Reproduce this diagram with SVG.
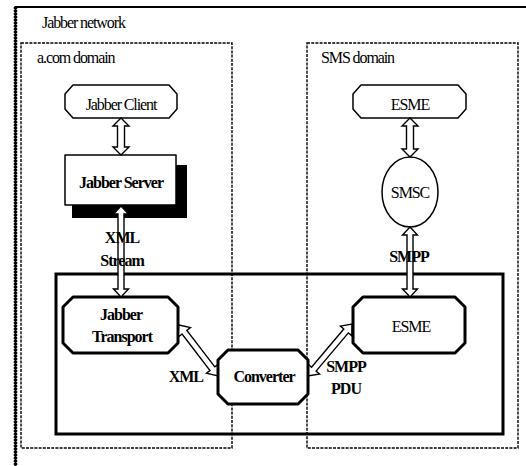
<svg xmlns="http://www.w3.org/2000/svg" width="526" height="466" viewBox="0 0 526 466" font-family="'Liberation Serif', 'Times New Roman', serif">
<style>
text{font-family:'Liberation Serif','Times New Roman',serif;font-size:16px;fill:#000;letter-spacing:-1.1px}
.b{font-weight:bold;letter-spacing:-1px}
.m{text-anchor:middle}
.dash{fill:none;stroke:#000;stroke-width:1.4;stroke-dasharray:3 1.2}
.thin{fill:#fff;stroke:#000;stroke-width:1.5;stroke-linejoin:round}
.thick{fill:#fff;stroke:#000;stroke-width:3;stroke-linejoin:round}
.arr{fill:#fff;stroke:#000;stroke-width:1.4;stroke-linejoin:miter}
</style>
<rect width="526" height="466" fill="#fff"/>
<g id="jabber-network">
<path d="M15.5,466 V7 H526" fill="none" stroke="#000" stroke-width="2"/>
<line x1="15.5" y1="7" x2="15.5" y2="466" stroke="#000" stroke-width="3.5" stroke-dasharray="2 1"/>
<text x="42" y="28">Jabber network</text>
</g>
<g id="acom-domain">
<rect class="dash" x="21" y="43" width="211" height="405"/>
<text x="37" y="63">a.com domain</text>
</g>
<g id="sms-domain">
<rect class="dash" x="307" y="43" width="211" height="405"/>
<text x="321" y="63">SMS domain</text>
</g>
<g id="gateway">
<rect x="56" y="274" width="447" height="160" fill="none" stroke="#000" stroke-width="3"/>
</g>
<g id="jabber-client">
<path class="thin" d="M73,85 H169 L177,94 V109 L169,118 H73 L65,109 V94 Z"/>
<text class="m" x="121" y="110">Jabber Client</text>
</g>
<g id="jabber-server">
<rect x="72" y="165" width="115" height="53" fill="#000"/>
<rect class="thin" x="65" y="155" width="111" height="50"/>
<text class="m b" x="121" y="188">Jabber Server</text>
</g>
<g id="esme-top">
<path class="thin" d="M361,85 H458 L466,94 V109 L458,118 H361 L353,109 V94 Z"/>
<text class="m" x="410" y="110">ESME</text>
</g>
<g id="smsc">
<ellipse class="thin" cx="410" cy="192" rx="28" ry="35"/>
<text class="m" x="410" y="198">SMSC</text>
</g>
<g id="jabber-transport">
<path class="thick" d="M73,297 H168 L178,307 V343 L168,353 H73 L63,343 V307 Z"/>
<text class="m b" x="121" y="320">Jabber</text>
<text class="m b" x="122" y="342">Transport</text>
</g>
<g id="esme-bottom">
<path class="thick" d="M363,297 H455 L465,307 V343 L455,353 H363 L353,343 V307 Z"/>
<text class="m" x="411" y="332">ESME</text>
</g>
<g id="connectors">
<path class="arr" transform="translate(121,118) rotate(90)" d="M0,0 L8,-8 L8,-3.5 L29,-3.5 L29,-8 L37,0 L29,8 L29,3.5 L8,3.5 L8,8 Z"/>
<path class="arr" transform="translate(121,206) rotate(90)" d="M0,0 L8,-7.5 L8,-3 L83,-3 L83,-7.5 L91,0 L83,7.5 L83,3 L8,3 L8,7.5 Z"/>
<path class="arr" transform="translate(410,118) rotate(90)" d="M0,0 L8,-8 L8,-3.5 L31,-3.5 L31,-8 L39,0 L31,8 L31,3.5 L8,3.5 L8,8 Z"/>
<path class="arr" transform="translate(410,227) rotate(90)" d="M0,0 L8,-7.5 L8,-3 L62,-3 L62,-7.5 L70,0 L62,7.5 L62,3 L8,3 L8,7.5 Z"/>
<path class="arr" transform="translate(179,325) rotate(52.6)" d="M0,0 L9,-7.5 L9,-3 L55,-3 L55,-7.5 L64,0 L55,7.5 L55,3 L9,3 L9,7.5 Z"/>
<path class="arr" transform="translate(308,376) rotate(-49.8)" d="M0,0 L9,-7.5 L9,-3 L59,-3 L59,-7.5 L68,0 L59,7.5 L59,3 L9,3 L9,7.5 Z"/>
<text class="m b" x="122" y="243">XML</text>
<text class="m b" x="122" y="266">Stream</text>
<text class="m b" x="409" y="262">SMPP</text>
<text class="b" x="203" y="382" text-anchor="end">XML</text>
<text class="m b" x="346" y="372">SMPP</text>
<text class="m b" x="346" y="394">PDU</text>
</g>
<g id="converter">
<path class="thick" d="M228,350 H298 L308,360 V394 L298,404 H228 L218,394 V360 Z"/>
<text class="m b" x="264" y="382">Converter</text>
</g>
</svg>
